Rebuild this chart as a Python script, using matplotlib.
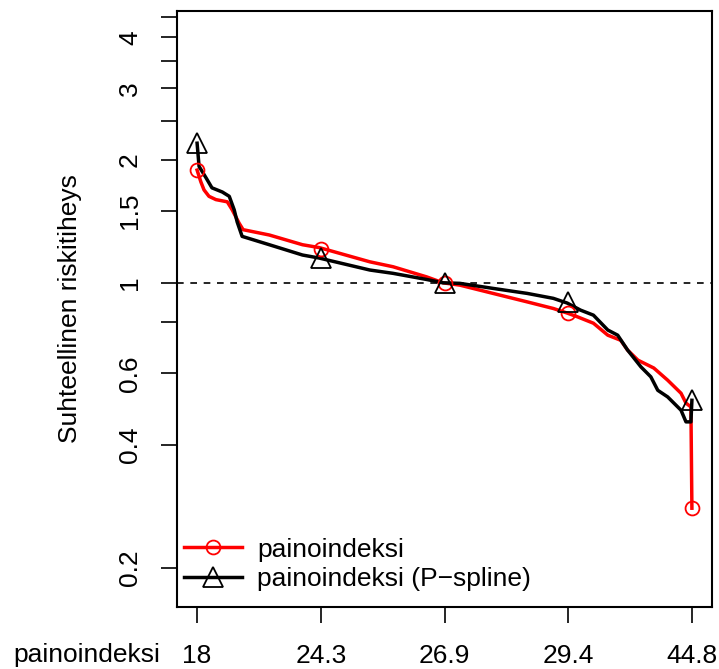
import matplotlib
matplotlib.use('Agg')
import matplotlib.pyplot as plt
from matplotlib.ticker import FixedLocator, NullLocator, NullFormatter
from matplotlib.lines import Line2D

plt.rcParams['font.family'] = ['Liberation Sans', 'DejaVu Sans']

# quantile position of painoindeksi (0..1) and relative risk
red_x = [0.0, 0.0075, 0.014, 0.024, 0.038, 0.061, 0.071, 0.085, 0.093, 0.146,
         0.213, 0.247, 0.349, 0.396, 0.464, 0.497, 0.531, 0.598, 0.667, 0.720,
         0.748, 0.769, 0.801, 0.830, 0.856, 0.870, 0.891, 0.923, 0.951, 0.978,
         0.988, 0.998, 1.0]
red_y = [1.89, 1.77, 1.69, 1.63, 1.60, 1.58, 1.51, 1.40, 1.35, 1.31,
         1.24, 1.22, 1.126, 1.095, 1.034, 1.0, 0.987, 0.942, 0.898, 0.865,
         0.843, 0.825, 0.796, 0.744, 0.723, 0.684, 0.646, 0.618, 0.577, 0.536,
         0.507, 0.496, 0.28]

black_x = [0.0, 0.004, 0.018, 0.030, 0.051, 0.065, 0.075, 0.081, 0.091, 0.146,
           0.213, 0.247, 0.349, 0.396, 0.464, 0.497, 0.531, 0.598, 0.667, 0.720,
           0.748, 0.775, 0.801, 0.830, 0.850, 0.870, 0.897, 0.917, 0.931, 0.951,
           0.978, 0.988, 0.998, 1.0]
black_y = [2.20, 1.93, 1.81, 1.71, 1.67, 1.63, 1.51, 1.41, 1.30, 1.24,
           1.17, 1.15, 1.075, 1.055, 1.019, 1.0, 0.997, 0.969, 0.942, 0.916,
           0.892, 0.857, 0.833, 0.766, 0.744, 0.684, 0.622, 0.588, 0.545, 0.525,
           0.487, 0.456, 0.456, 0.515]

# markers at the quantiles
q_pos = [0.0, 0.25, 0.5, 0.75, 1.0]
q_labels = ['18', '24.3', '26.9', '29.4', '44.8']
red_mark = [1.89, 1.21, 1.0, 0.843, 0.28]
black_mark = [2.20, 1.15, 1.0, 0.897, 0.515]

y_ticks = [0.2, 0.4, 0.6, 0.8, 1, 1.5, 2, 2.5, 3, 3.5, 4, 4.5]
y_labels = ['0.2', '0.4', '0.6', '', '1', '1.5', '2', '', '3', '', '4', '']

fig = plt.figure(figsize=(7.19, 6.69), dpi=100)
ax = fig.add_axes([177.3 / 719, 1 - 607.3 / 669, (711.7 - 177.3) / 719, (607.3 - 10.7) / 669])

ax.axhline(1, color='black', lw=1.2, ls=(0, (4, 4)))
ax.plot(red_x, red_y, color='red', lw=2.5)
ax.plot(black_x, black_y, color='black', lw=2.5)
ax.plot(q_pos, red_mark, ls='none', marker='o', ms=10, mfc='none', mec='red', mew=1.3)
ax.plot(q_pos, black_mark, ls='none', marker='^', ms=14, mfc='none', mec='black', mew=1.3)

ax.set_yscale('log')
ax.set_xlim(-0.04, 1.04)
ax.set_ylim(0.16, 4.65)

ax.yaxis.set_major_locator(FixedLocator(y_ticks))
ax.yaxis.set_minor_locator(NullLocator())
ax.yaxis.set_minor_formatter(NullFormatter())
ax.set_yticks(y_ticks)
ax.set_yticklabels(y_labels, rotation=90, va='center')
ax.set_xticks(q_pos)
ax.set_xticklabels(q_labels)

ax.tick_params(axis='both', length=11.5, width=1.2, labelsize=19, color='black')
ax.tick_params(axis='y', pad=14)
ax.tick_params(axis='x', pad=15)
for s in ax.spines.values():
    s.set_linewidth(1.5)

fig.text(160 / 719, 1 - 655 / 669, 'painoindeksi', ha='right', va='center', fontsize=19)
fig.text(70 / 719, 1 - 309 / 669, 'Suhteellinen riskitiheys', rotation=90,
         ha='center', va='center', fontsize=19)

handles = [
    Line2D([0], [0], color='red', lw=2.5, marker='o', ms=10, mfc='none', mec='red', mew=1.3),
    Line2D([0], [0], color='black', lw=2.5, marker='^', ms=14, mfc='none', mec='black', mew=1.3),
]
ax.legend(handles, ['painoindeksi', 'painoindeksi (P\u2212spline)'], loc='lower left',
          bbox_to_anchor=(-0.008, 0.009), frameon=False, fontsize=19, numpoints=1,
          handlelength=2.2, handletextpad=0.6, labelspacing=0.22, borderaxespad=0.0)

fig.savefig('out.png', dpi=100)
